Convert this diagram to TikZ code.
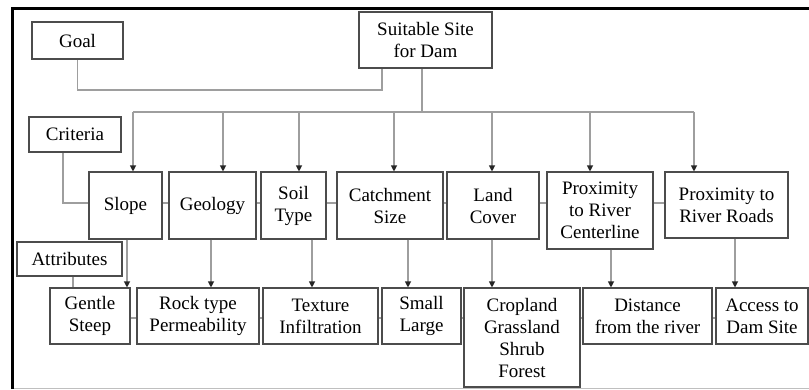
\documentclass[tikz,border=0pt]{standalone}
\usepackage{fontspec}
\setmainfont{Liberation Serif}
\usetikzlibrary{arrows.meta,backgrounds}
\begin{document}
\begin{tikzpicture}[x=1pt,y=-1pt,
  box/.style={draw=black!70,line width=1.1pt,fill=white,inner sep=0pt,align=center,
    font=\fontsize{19}{22}\selectfont},
  conn/.style={draw=black!38,line width=1.1pt},
  arr/.style={conn,-{Triangle[width=6pt,length=6pt,color=black!85]}}]
\useasboundingbox (0,0) rectangle (809,389);
% frame
\draw[black!25,line width=0.8pt] (12,388) -- (809,388);
\draw[line width=3pt] (12,389) -- (12,8) -- (809,8);
% nodes
\node[box,minimum width=91,minimum height=37] (goal) at (77.5,40.5) {Goal};
\node[box,minimum width=133,minimum height=56] (site) at (425.5,40) {Suitable Site\\for Dam};
\node[box,minimum width=92,minimum height=35] (criteria) at (75,134.5) {Criteria};
\node[box,minimum width=73,minimum height=67] (slope) at (125.5,205.5) {Slope};
\node[box,minimum width=87,minimum height=67] (geology) at (212.5,205.5) {Geology};
\node[box,minimum width=65,minimum height=67] (soil) at (293.5,205.5) {Soil\\Type};
\node[box,minimum width=106,minimum height=67] (catch) at (390,205.5) {Catchment\\Size};
\node[box,minimum width=92,minimum height=67] (land) at (493,205.5) {Land\\Cover};
\node[box,minimum width=106,minimum height=77] (prox1) at (600,210.5) {Proximity\\to River\\Centerline};
\node[box,minimum width=123,minimum height=66] (prox2) at (726.5,205) {Proximity to\\River Roads};
\node[box,minimum width=105,minimum height=34] (attr) at (69.5,259) {Attributes};
\node[box,minimum width=80,minimum height=56] (gentle) at (90,316) {Gentle\\Steep};
\node[box,minimum width=122,minimum height=56] (rock) at (198,316) {Rock type\\Permeability};
\node[box,minimum width=115,minimum height=56] (texture) at (320.5,316) {Texture\\Infiltration};
\node[box,minimum width=79,minimum height=56] (small) at (421.5,316) {Small\\Large};
\node[box,minimum width=116,minimum height=99] (crop) at (522,337.5) {Cropland\\Grassland\\Shrub\\Forest};
\node[box,minimum width=129,minimum height=56] (dist) at (647.5,316) {Distance\\from the river};
\node[box,minimum width=92,minimum height=56] (access) at (762,316) {Access to\\Dam Site};
% helper coordinates
\coordinate (g1) at (382,90);
\coordinate (s1) at (422,112);
\coordinate (bl) at (133,112);
\coordinate (br) at (694,112);
\coordinate (c1) at (63,203);
\coordinate (a1) at (73,318);
\coordinate (t1) at (133,0);
\coordinate (t2) at (223,0);
\coordinate (t3) at (299,0);
\coordinate (t4) at (394,0);
\coordinate (t5) at (492,0);
\coordinate (t6) at (590,0);
\coordinate (t7) at (694,0);
\coordinate (d1) at (127,0);
\coordinate (d2) at (211,0);
\coordinate (d3) at (312,0);
\coordinate (d4) at (408,0);
\coordinate (d5) at (492,0);
\coordinate (d6) at (611,0);
\coordinate (d7) at (735,0);
\begin{scope}[on background layer]
\draw[conn] (goal.south) |- (g1) -- (g1 |- site.south);
\draw[conn] (s1 |- site.south) -- (s1);
\draw[conn] (bl) -- (br);
\draw[conn] (c1 |- criteria.south) -- (c1) -- (c1 -| prox2.west);
\draw[conn] (a1 |- attr.south) -- (a1) -- (a1 -| access.west);
\end{scope}
\draw[arr] (t1 |- bl) -- (t1 |- slope.north);
\draw[arr] (t2 |- bl) -- (t2 |- geology.north);
\draw[arr] (t3 |- bl) -- (t3 |- soil.north);
\draw[arr] (t4 |- bl) -- (t4 |- catch.north);
\draw[arr] (t5 |- bl) -- (t5 |- land.north);
\draw[arr] (t6 |- bl) -- (t6 |- prox1.north);
\draw[arr] (t7 |- bl) -- (t7 |- prox2.north);
\draw[arr] (d1 |- slope.south) -- (d1 |- gentle.north);
\draw[arr] (d2 |- geology.south) -- (d2 |- rock.north);
\draw[arr] (d3 |- soil.south) -- (d3 |- texture.north);
\draw[arr] (d4 |- catch.south) -- (d4 |- small.north);
\draw[arr] (d5 |- land.south) -- (d5 |- crop.north);
\draw[arr] (d6 |- prox1.south) -- (d6 |- dist.north);
\draw[arr] (d7 |- prox2.south) -- (d7 |- access.north);
\end{tikzpicture}
\end{document}
